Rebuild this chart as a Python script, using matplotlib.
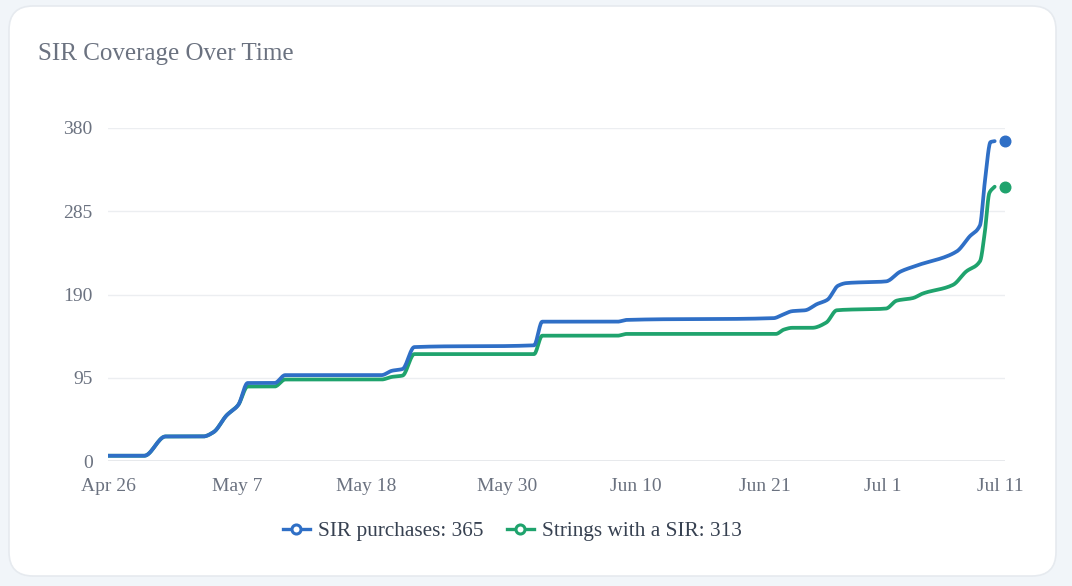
import numpy as np
import pandas as pd
import matplotlib
matplotlib.use("Agg")
import matplotlib.pyplot as plt
from matplotlib.patches import FancyBboxPatch
from matplotlib.lines import Line2D

plt.rcParams["font.family"] = ["Liberation Serif", "DejaVu Serif"]

# ----------------------------
# Data (days after Apr 26, cumulative counts)
# ----------------------------
START = pd.Timestamp("2024-04-26")

blue_days = [0, 3.1, 4.9, 8.1, 9.0, 10.1, 11.1, 11.9, 14.2, 15.1, 23.3, 24.2,
             25.1, 26.1, 36.3, 37.0, 43.4, 44.2, 56.7, 57.5, 58.3, 59.4, 60.4,
             61.3, 62.2, 62.9, 66.3, 67.5, 68.9, 72.3, 73.4, 74.3, 74.7, 75.2, 75.55]
blue_vals = [6, 6, 28, 28, 33, 52, 64, 89, 89, 98, 98, 103,
             105, 130, 132, 159, 159, 161, 163, 167, 171, 172, 179,
             184, 200, 203, 205, 216, 223, 239, 256, 269, 317, 364, 365]

green_days = [0, 3.1, 4.9, 8.1, 9.0, 10.1, 11.1, 11.9, 14.2, 15.1, 23.3, 24.2,
              25.1, 26.1, 36.3, 37.0, 43.4, 44.2, 56.9, 57.6, 58.3, 60.0, 61.2,
              62.1, 66.3, 67.2, 68.6, 69.4, 72.0, 73.1, 74.3, 74.7, 75.1, 75.55]
green_vals = [6, 6, 28, 28, 33, 52, 64, 85, 85, 93, 93, 96,
              97.5, 122, 122, 143, 143, 145, 145, 150, 152, 152, 158,
              172, 174, 183, 186, 191, 201, 216, 228, 260, 306, 313]

last_day = 76.4
blue_last = 365
green_last = 313

tick_days = [0, 11, 22, 34, 45, 56, 66, 76]
tick_labels = ["Apr 26", "May 7", "May 18", "May 30", "Jun 10", "Jun 21", "Jul 1", "Jul 11"]
y_ticks = [0, 95, 190, 285, 380]

BLUE = "#2f6fc6"
GREEN = "#1fa36d"


def to_dates(days):
    return START + pd.to_timedelta(np.asarray(days, dtype=float), unit="D")


def smooth(x, y, n=16):
    # monotone cubic (Fritsch-Carlson) so the steps get rounded corners
    x = np.asarray(x, float)
    y = np.asarray(y, float)
    h = np.diff(x)
    d = np.diff(y) / h
    m = np.zeros_like(y)
    m[0], m[-1] = d[0], d[-1]
    for k in range(1, len(x) - 1):
        if d[k - 1] * d[k] > 0:
            w1 = 2 * h[k] + h[k - 1]
            w2 = h[k] + 2 * h[k - 1]
            m[k] = (w1 + w2) / (w1 / d[k - 1] + w2 / d[k])
    xs, ys = [], []
    for k in range(len(x) - 1):
        t = np.linspace(0, 1, n, endpoint=False)
        h00 = 2 * t**3 - 3 * t**2 + 1
        h10 = t**3 - 2 * t**2 + t
        h01 = -2 * t**3 + 3 * t**2
        h11 = t**3 - t**2
        xs.append(x[k] + t * h[k])
        ys.append(h00 * y[k] + h10 * h[k] * m[k] + h01 * y[k + 1] + h11 * h[k] * m[k + 1])
    xs.append([x[-1]])
    ys.append([y[-1]])
    return np.concatenate(xs), np.concatenate(ys)


fig = plt.figure(figsize=(10.72, 5.86), dpi=100)
fig.patch.set_facecolor("#f1f5f9")

# card background
bg = fig.add_axes([0, 0, 1, 1])
bg.set_xlim(0, 1072)
bg.set_ylim(586, 0)
bg.axis("off")
bg.add_patch(FancyBboxPatch((9, 6), 1047, 570, boxstyle="round,pad=0,rounding_size=24",
                            facecolor="white", edgecolor="#e6eaef", lw=1.2))

fig.text(38 / 1072, 1 - 54 / 586, "SIR Coverage Over Time", fontsize=18,
         color="#6b7280", va="center", ha="left")

ax = fig.add_axes([108 / 1072, 125 / 586, 897 / 1072, 333 / 586])
ax.set_facecolor("none")

gx, gy = smooth(green_days, green_vals)
bx, by = smooth(blue_days, blue_vals)
ax.plot(to_dates(gx), gy, color=GREEN, lw=2.7,
        solid_joinstyle="round", solid_capstyle="round", zorder=3)
ax.plot(to_dates(bx), by, color=BLUE, lw=2.7,
        solid_joinstyle="round", solid_capstyle="round", zorder=4)
ax.scatter(to_dates([last_day]), [blue_last], s=58, color=BLUE, zorder=5, clip_on=False)
ax.scatter(to_dates([last_day]), [green_last], s=58, color=GREEN, zorder=5, clip_on=False)

ax.set_xlim(to_dates([0])[0], to_dates([76.43])[0])
ax.set_ylim(0, 380)
ax.set_yticks(y_ticks)
ax.set_yticklabels([str(v) for v in y_ticks])
ax.set_xticks(to_dates(tick_days))
ax.set_xticklabels(tick_labels)
ax.tick_params(axis="y", length=0, pad=11, labelsize=14, labelcolor="#6b7280")
ax.tick_params(axis="x", length=0, pad=12, labelsize=14, labelcolor="#6b7280")
ax.grid(axis="y", color="#eceef1", lw=1)
ax.grid(axis="x", visible=False)
for s in ax.spines.values():
    s.set_visible(False)
ax.axhline(0, color="#e2e5e9", lw=1.2, zorder=1)

handles = [
    Line2D([0], [0], color=BLUE, lw=2.4, marker="o", markersize=6.5,
           markerfacecolor="white", markeredgewidth=2.2),
    Line2D([0], [0], color=GREEN, lw=2.4, marker="o", markersize=6.5,
           markerfacecolor="white", markeredgewidth=2.2),
]
fig.legend(handles, [f"SIR purchases: {blue_last}", f"Strings with a SIR: {green_last}"],
           loc="center", bbox_to_anchor=(512 / 1072, 1 - 531 / 586), ncol=2,
           frameon=False, fontsize=15.3, labelcolor="#374151",
           handlelength=1.3, handletextpad=0.35, columnspacing=1.1)

fig.savefig("out.png", dpi=100, facecolor=fig.get_facecolor())
